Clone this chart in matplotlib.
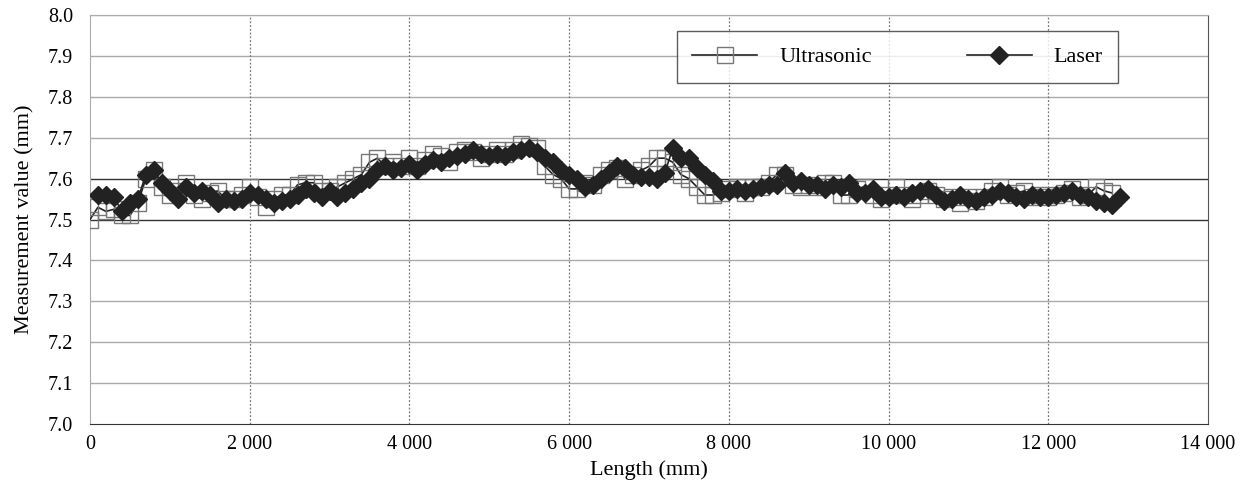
import matplotlib.pyplot as plt
from matplotlib.ticker import FuncFormatter

# Data (mm)
us_x = list(range(0, 12900, 100))
us_y = [7.50, 7.53, 7.52, 7.525, 7.51, 7.51, 7.54, 7.60, 7.62, 7.58,
        7.56, 7.57, 7.59, 7.56, 7.55, 7.565, 7.57, 7.55, 7.55, 7.56,
        7.58, 7.555, 7.53, 7.55, 7.56, 7.56, 7.585, 7.59, 7.59, 7.57,
        7.57, 7.58, 7.59, 7.60, 7.61, 7.64, 7.65, 7.63, 7.64, 7.63,
        7.65, 7.63, 7.645, 7.66, 7.655, 7.64, 7.665, 7.67, 7.665, 7.65,
        7.66, 7.67, 7.66, 7.67, 7.685, 7.68, 7.675, 7.63, 7.61, 7.60,
        7.575, 7.575, 7.59, 7.585, 7.61, 7.62, 7.625, 7.60, 7.61, 7.62,
        7.63, 7.65, 7.65, 7.64, 7.61, 7.60, 7.58, 7.56, 7.56, 7.565,
        7.575, 7.58, 7.565, 7.58, 7.58, 7.59, 7.61, 7.61, 7.585, 7.58,
        7.585, 7.58, 7.59, 7.59, 7.56, 7.56, 7.575, 7.58, 7.56, 7.55,
        7.56, 7.58, 7.56, 7.55, 7.56, 7.57, 7.56, 7.55, 7.555, 7.54,
        7.555, 7.545, 7.555, 7.57, 7.58, 7.56, 7.565, 7.57, 7.555, 7.56,
        7.555, 7.56, 7.565, 7.575, 7.555, 7.56, 7.58, 7.57, 7.565]

laser_x = list(range(100, 13000, 100))
laser_y = [7.56, 7.56, 7.555, 7.52, 7.54, 7.55, 7.61, 7.62, 7.59, 7.57,
           7.55, 7.58, 7.565, 7.57, 7.56, 7.54, 7.55, 7.545, 7.55, 7.565,
           7.56, 7.55, 7.54, 7.545, 7.55, 7.56, 7.575, 7.565, 7.555, 7.57,
           7.555, 7.565, 7.575, 7.59, 7.60, 7.62, 7.63, 7.62, 7.625, 7.635,
           7.62, 7.635, 7.645, 7.64, 7.65, 7.655, 7.66, 7.67, 7.66, 7.655,
           7.66, 7.655, 7.665, 7.67, 7.675, 7.665, 7.65, 7.64, 7.62, 7.61,
           7.60, 7.58, 7.585, 7.60, 7.615, 7.63, 7.625, 7.61, 7.605, 7.605,
           7.60, 7.615, 7.675, 7.65, 7.65, 7.625, 7.61, 7.595, 7.57, 7.57,
           7.575, 7.57, 7.575, 7.58, 7.585, 7.585, 7.615, 7.59, 7.595, 7.585,
           7.585, 7.575, 7.585, 7.58, 7.59, 7.565, 7.565, 7.575, 7.555, 7.555,
           7.56, 7.555, 7.565, 7.57, 7.575, 7.56, 7.545, 7.55, 7.56, 7.55,
           7.545, 7.555, 7.56, 7.57, 7.565, 7.555, 7.55, 7.56, 7.555, 7.555,
           7.56, 7.565, 7.57, 7.56, 7.555, 7.545, 7.54, 7.535, 7.555]

plt.rcParams['font.family'] = ['Liberation Serif', 'DejaVu Serif']

fig = plt.figure(figsize=(12.44, 4.92), dpi=100)
ax = fig.add_axes([0.0723, 0.138, 0.8987, 0.8315])

ax.plot(us_x, us_y, color='#222222', lw=1.2, marker='s', markersize=11,
        markerfacecolor='none', markeredgecolor='#777777', markeredgewidth=1.0,
        label='Ultrasonic', zorder=3)
ax.plot(laser_x, laser_y, color='#222222', lw=1.2, marker='D', markersize=9,
        markerfacecolor='#222222', markeredgecolor='#222222',
        label='Laser', zorder=4)

ax.set_xlim(0, 14000)
ax.set_ylim(7.0, 8.0)
ax.set_xticks(range(0, 14001, 2000))
ax.set_yticks([7.0 + 0.1 * i for i in range(11)])
ax.xaxis.set_major_formatter(FuncFormatter(lambda v, p: f'{int(v):,}'.replace(',', ' ')))
ax.yaxis.set_major_formatter(FuncFormatter(lambda v, p: f'{v:.1f}'))
ax.tick_params(length=0, labelsize=14.5, pad=8)
ax.tick_params(axis='y', pad=12)

# grid
for i in range(1, 11):
    yv = 7.0 + 0.1 * i
    dark = i in (5, 6)
    ax.axhline(yv, color='#333333' if dark else '#aaaaaa', lw=1.0, zorder=1)
for xv in range(2000, 14000, 2000):
    ax.axvline(xv, color='#777777', lw=0.9, ls=(0, (1.5, 1.5)), zorder=1)

for s in ['left', 'top']:
    ax.spines[s].set_color('#aaaaaa')
ax.spines['right'].set_color('#555555')
ax.spines['bottom'].set_color('#333333')

ax.set_xlabel('Length (mm)', fontsize=16, labelpad=4)
ax.set_ylabel('Measurement value (mm)', fontsize=16, labelpad=10)

leg = ax.legend(loc='center', bbox_to_anchor=(0.7225, 0.897), ncol=2,
                fontsize=16, frameon=True, fancybox=False, edgecolor='#333333',
                borderpad=0.7, columnspacing=4.3, handlelength=2.9, handletextpad=1.0)
leg.get_frame().set_linewidth(1.0)

fig.savefig('out.png', dpi=100)
